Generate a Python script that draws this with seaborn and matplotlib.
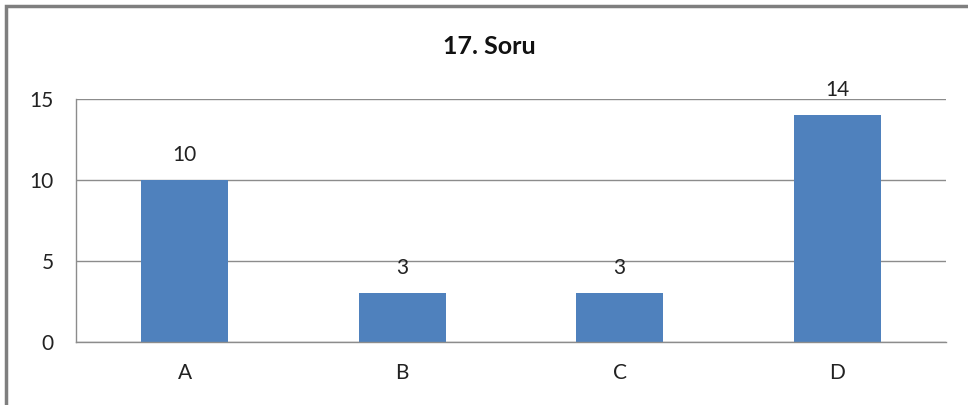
import pandas as pd
import matplotlib
matplotlib.use("Agg")
import matplotlib.pyplot as plt
from matplotlib.patches import Rectangle
import seaborn as sns

#Chart data
categories = ["A", "B", "C", "D"]
values = [10, 3, 3, 14]
y_ticks = [0, 5, 10, 15]

df = pd.DataFrame({"answer": categories, "count": values})

sns.set_style("white")
plt.rcParams["font.family"] = ["Lato", "DejaVu Sans"]

fig = plt.figure(figsize=(9.68, 4.05), dpi=100)
ax = fig.add_axes([0.0785, 0.1556, 0.8985, 0.6])

sns.barplot(data=df, x="answer", y="count", color="#4F81BD",
            width=0.4, saturation=1, linewidth=0, ax=ax)

#Value labels above the bars
for i, v in enumerate(values):
    ax.annotate(str(v), (i, v), xytext=(0, 11), textcoords="offset points",
                ha="center", va="bottom", fontsize=15, color="#222222")

#Axes formatting
ax.set_xlim(-0.5, len(categories) - 0.5)
ax.set_ylim(0, 15)
ax.set_yticks(y_ticks)
ax.set_xlabel(None)
ax.set_ylabel(None)
ax.grid(True, axis="y", color="#8C8C8C", linewidth=1)
ax.set_axisbelow(True)

for side in ["top", "right"]:
    ax.spines[side].set_visible(False)
for side in ["left", "bottom"]:
    ax.spines[side].set_color("#8C8C8C")
    ax.spines[side].set_linewidth(1)

ax.tick_params(axis="y", length=6, width=1, color="#8C8C8C",
               labelsize=15, pad=10, labelcolor="#222222")
#Category ticks sit on the boundaries, labels in the middle
ax.set_xticks([i - 0.5 for i in range(len(categories) + 1)], minor=False)
ax.set_xticklabels([])
ax.tick_params(axis="x", which="major", length=8, width=1, color="#8C8C8C")
ax.set_xticks(range(len(categories)), minor=True)
ax.set_xticklabels(categories, minor=True)
ax.tick_params(axis="x", which="minor", length=0, labelsize=15,
               pad=15, labelcolor="#222222")

#Title
fig.text(0.506, 0.885, "17. Soru", ha="center", va="center",
         fontsize=18, fontweight="bold", color="#111111")

#Outer chart frame
fig.patches.append(Rectangle((0.006, -0.05), 1.2, 1.035,
                             transform=fig.transFigure, fill=False,
                             edgecolor="#7F7F7F", linewidth=2.5))

plt.savefig("out.png", dpi=100)
